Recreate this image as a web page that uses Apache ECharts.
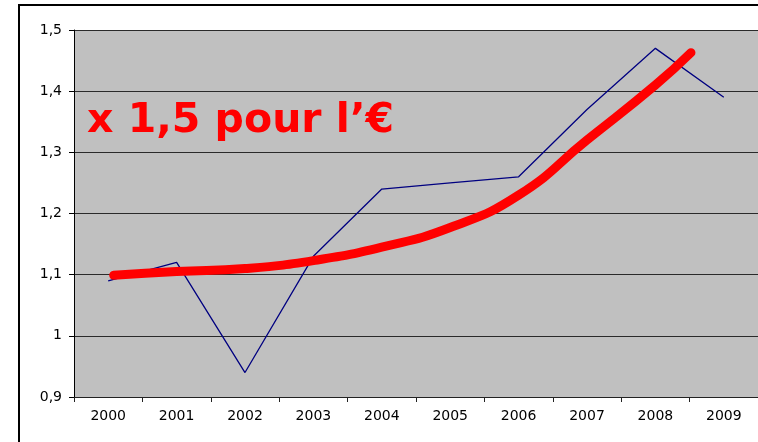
<!DOCTYPE html>
<html>
<head>
<meta charset="utf-8">
<script src="https://cdn.jsdelivr.net/npm/echarts@6/dist/echarts.min.js"></script>
<style>
  html, body { margin: 0; padding: 0; background: #fff; }
  #chart { width: 758px; height: 442px; }
</style>
</head>
<body>
<div id="chart"></div>
<script>
// Years on the horizontal axis
const years = ['2000', '2001', '2002', '2003', '2004', '2005', '2006', '2007', '2008', '2009'];
// Yearly values (thin navy line)
const yearlyValues = [1.09, 1.12, 0.94, 1.13, 1.24, 1.25, 1.26, 1.37, 1.47, 1.39];
// Trend curve: [position along the years (0 = 2000), value]
const trendX = [0.08, 1, 2, 3, 4, 5, 6, 7, 8, 8.52];
const trendY = [1.099, 1.105, 1.110, 1.123, 1.145, 1.177, 1.230, 1.320, 1.410, 1.463];
// Vertical scale
const yMin = 0.9, yMax = 1.5, yStep = 0.1;
const headline = 'x 1,5 pour l\u2019\u20ac';

const chart = echarts.init(document.getElementById('chart'), null, { renderer: 'canvas' });

const labelFont = { fontFamily: 'DejaVu Sans', fontSize: 14, color: '#000' };

chart.setOption({
  animation: false,
  backgroundColor: '#fff',
  title: {
    text: headline,
    left: 82,
    top: 96,
    textStyle: {
      fontFamily: 'DejaVu Sans',
      fontWeight: 'bold',
      fontSize: 41,
      color: '#ff0000'
    }
  },
  graphic: [{
    type: 'rect',
    silent: true,
    z: -1,
    shape: { x: 19, y: 5, width: 800, height: 500 },
    style: { fill: 'none', stroke: '#000', lineWidth: 2 }
  }],
  grid: {
    left: 74,
    top: 30,
    width: 686,
    height: 367,
    show: true,
    backgroundColor: '#c0c0c0',
    borderWidth: 0
  },
  xAxis: [{
    type: 'category',
    data: years,
    boundaryGap: true,
    axisLine: { show: true, onZero: false, lineStyle: { color: '#222', width: 1 } },
    axisTick: { show: true, length: 5, lineStyle: { color: '#222' } },
    axisLabel: Object.assign({ margin: 12 }, labelFont),
    splitLine: { show: false }
  }, {
    type: 'value',
    min: -0.5,
    max: 9.5,
    show: false,
    splitLine: { show: false }
  }],
  yAxis: {
    type: 'value',
    min: yMin,
    max: yMax,
    interval: yStep,
    axisLine: { show: true, onZero: false, lineStyle: { color: '#000', width: 1 } },
    axisTick: { show: true, length: 5, lineStyle: { color: '#000' } },
    axisLabel: Object.assign({
      margin: 12,
      formatter: v => String(+v.toFixed(1)).replace('.', ',')
    }, labelFont),
    splitLine: { show: true, lineStyle: { color: '#2a2a2a', width: 1 } }
  },
  series: [{
    type: 'line',
    xAxisIndex: 0,
    data: yearlyValues,
    showSymbol: false,
    symbol: 'none',
    lineStyle: { color: '#000080', width: 1.3 },
    z: 2
  }, {
    type: 'line',
    xAxisIndex: 1,
    data: trendX.map((x, i) => [x, trendY[i]]),
    smooth: true,
    showSymbol: false,
    symbol: 'none',
    lineStyle: { color: '#ff0000', width: 9, cap: 'round', join: 'round' },
    z: 3
  }]
});
</script>
</body>
</html>
